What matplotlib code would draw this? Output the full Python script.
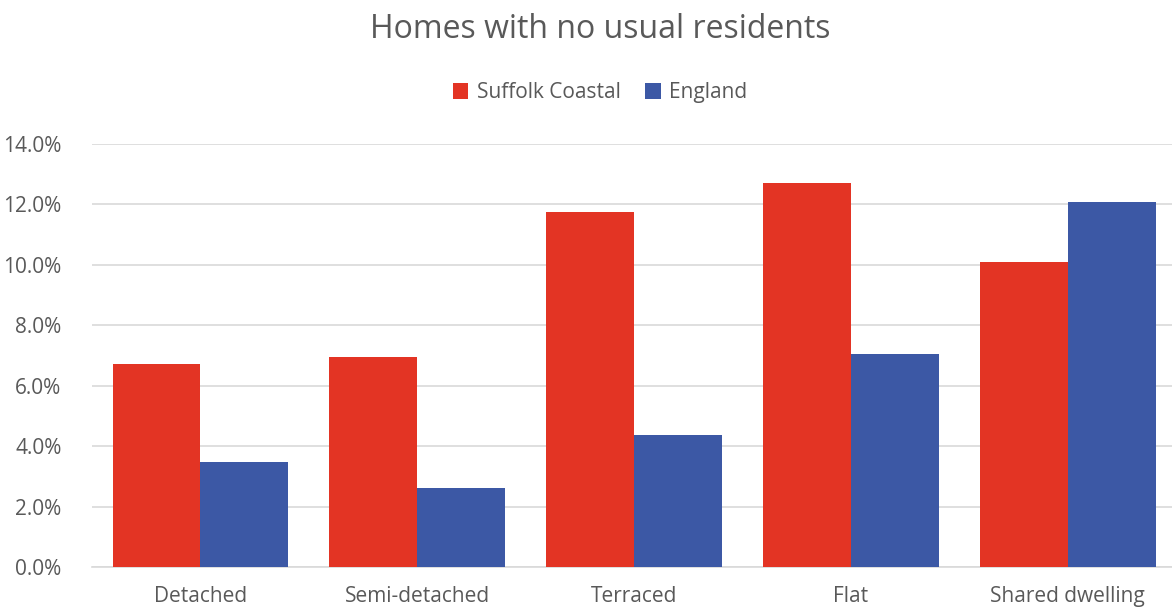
import numpy as np
import matplotlib
matplotlib.use("Agg")
import matplotlib.pyplot as plt
from matplotlib.ticker import FuncFormatter

categories = ["Detached", "Semi-detached", "Terraced", "Flat", "Shared dwelling"]
suffolk_coastal = [6.72, 6.95, 11.75, 12.71, 10.10]
england = [3.48, 2.62, 4.37, 7.05, 12.08]
yticks = [0, 2, 4, 6, 8, 10, 12, 14]

red = "#E33424"
blue = "#3C58A5"
text_col = "#595959"

plt.rcParams['font.family'] = ['Open Sans', 'DejaVu Sans']

fig = plt.figure(figsize=(11.72, 6.10), dpi=100)
ax = fig.add_axes([0.0785, 0.0705, 0.925, 0.6935])

x = np.arange(len(categories))
w = 0.405
ax.bar(x - w / 2, suffolk_coastal, w, color=red, label="Suffolk Coastal", zorder=3)
ax.bar(x + w / 2, england, w, color=blue, label="England", zorder=3)

ax.set_xlim(-0.5, len(categories) - 0.5)
ax.set_ylim(0, 14)
ax.set_yticks(yticks)
ax.yaxis.set_major_formatter(FuncFormatter(lambda v, p: "%.1f%%" % v))
ax.set_xticks(x)
ax.set_xticklabels(categories)
ax.tick_params(length=0, labelsize=15, colors=text_col)
ax.tick_params(axis='x', pad=14)
ax.tick_params(axis='y', pad=22)
ax.grid(axis='y', color="#D9D9D9", linewidth=1.2, zorder=0)
for s in ['top', 'right', 'left']:
    ax.spines[s].set_visible(False)
ax.spines['bottom'].set_color("#D9D9D9")
ax.spines['bottom'].set_linewidth(1.2)

fig.text(0.512, 0.952, "Homes with no usual residents", ha='center', va='center',
         fontsize=23, color=text_col)
fig.legend(loc='center', bbox_to_anchor=(0.512, 0.848), ncol=2, frameon=False,
           fontsize=15, labelcolor=text_col, handlelength=0.75, handleheight=0.75,
           handletextpad=0.4, columnspacing=1.2)

fig.savefig("out.png", dpi=100)
